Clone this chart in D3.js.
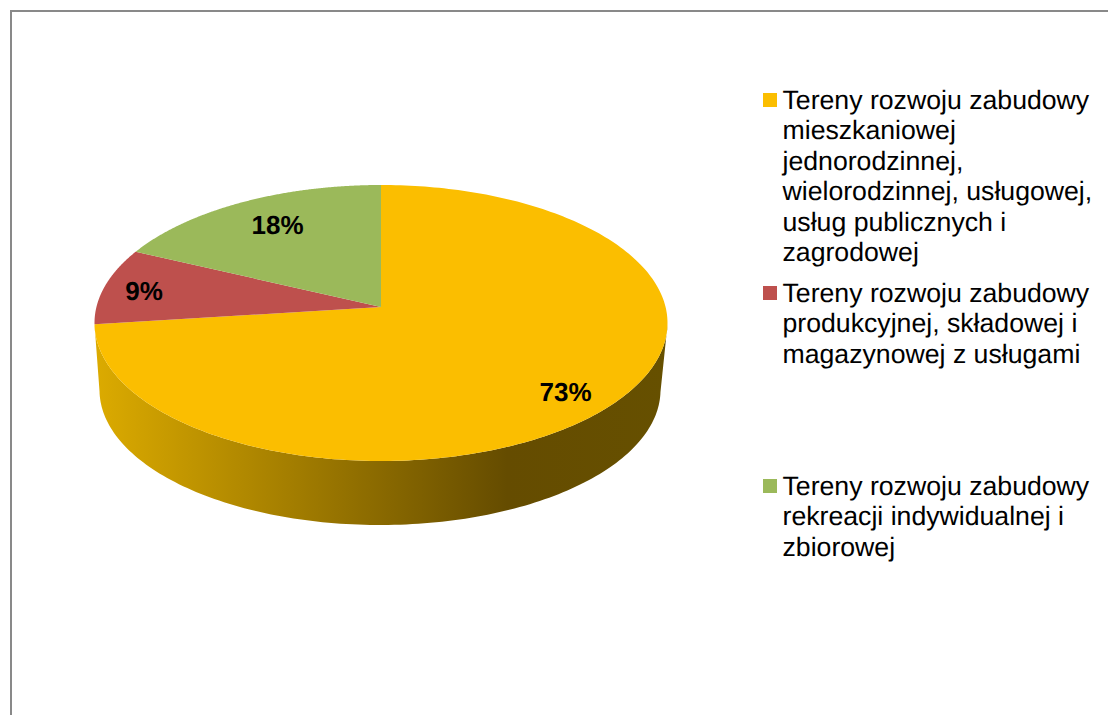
<!DOCTYPE html>
<html><head><meta charset="utf-8">
<script src="https://cdn.jsdelivr.net/npm/d3@7"></script>
<style>html,body{margin:0;padding:0;background:#fff}svg{display:block}text{font-family:"Liberation Sans",Arial,sans-serif;fill:#000;text-rendering:geometricPrecision}</style>
</head><body><div id="c"></div>
<script>
const categories = [
  ["Tereny rozwoju zabudowy","mieszkaniowej","jednorodzinnej,","wielorodzinnej, usługowej,","usług publicznych i","zagrodowej"],
  ["Tereny rozwoju zabudowy","produkcyjnej, składowej i","magazynowej z usługami"],
  ["Tereny rozwoju zabudowy","rekreacji indywidualnej i","zbiorowej"]
];
const values = [73, 9, 18];
const labels = ["73%","9%","18%"];
const colors = ["#fbbe00","#be504d","#9bb95a"];
const labelPos = [[565.5,390.5],[144,289.5],[277.5,223.5]];
const legendTop = [93,286,479];

const W=1108,H=715;
const svg=d3.select("#c").append("svg").attr("width",W).attr("height",H);
svg.append("path").attr("d",d3.line()([[11,H],[11,11],[W,11]])).attr("fill","none").attr("stroke","#898989").attr("stroke-width",2);

const top_={cx:381,cy:323,rx:286.5,ry:138};
const bot={cx:380,cy:390,rx:280.5,ry:135};
const a=(307-top_.cy)/top_.ry;
function proj(t,e){const u=Math.sin(t),v=-Math.cos(t),d=1+a*v;
  return [e.cx+e.rx*u*Math.sqrt(1-a*a)/d, e.cy+e.ry*(v+a)/d];}
const centre=[top_.cx,top_.cy+top_.ry*a];
const pie=d3.pie().sort(null).value(d=>d)(values);
const line=d3.line();
const steps=(s,e)=>d3.range(0,241).map(i=>s+(e-s)*i/240);

const defs=svg.append("defs");
const grad=defs.append("linearGradient").attr("id","side").attr("gradientUnits","userSpaceOnUse")
  .attr("x1",top_.cx-top_.rx).attr("x2",top_.cx+top_.rx).attr("y1",0).attr("y2",0);
[[0,"#dcab00"],[0.72,"#654c00"],[1,"#665000"]].forEach(s=>grad.append("stop").attr("offset",s[0]).attr("stop-color",s[1]));

// side wall of the visible part of the first slice
const y0=pie[0];
const rim=steps(y0.startAngle,y0.endAngle).filter(t=>proj(t,top_)[1]>=top_.cy);
const rimTop=rim.map(t=>proj(t,top_));
const rimBot=rim.map(t=>proj(t,bot)).reverse();
svg.append("path").attr("d",line(rimTop.concat(rimBot))+"Z").attr("fill","url(#side)");

svg.selectAll("path.slice").data(pie).enter().append("path").attr("class","slice")
  .attr("d",d=>line([centre].concat(steps(d.startAngle,d.endAngle).map(t=>proj(t,top_))))+"Z")
  .attr("fill",(d,i)=>colors[i]);

svg.selectAll("text.lab").data(labels).enter().append("text").attr("class","lab")
  .attr("x",(d,i)=>labelPos[i][0]).attr("y",(d,i)=>labelPos[i][1]+10)
  .attr("text-anchor","middle").attr("font-weight","bold").attr("font-size",26).text(d=>d);

const leg=svg.selectAll("g.leg").data(categories).enter().append("g").attr("class","leg");
leg.append("rect").attr("x",763).attr("y",(d,i)=>legendTop[i]).attr("width",14).attr("height",14).attr("fill",(d,i)=>colors[i]);
leg.each(function(d,i){
  d3.select(this).selectAll("text").data(d).enter().append("text")
    .attr("x",782.5).attr("y",(l,j)=>legendTop[i]+15.5+j*30.5).attr("font-size",26.67).text(l=>l);
});
</script></body></html>
